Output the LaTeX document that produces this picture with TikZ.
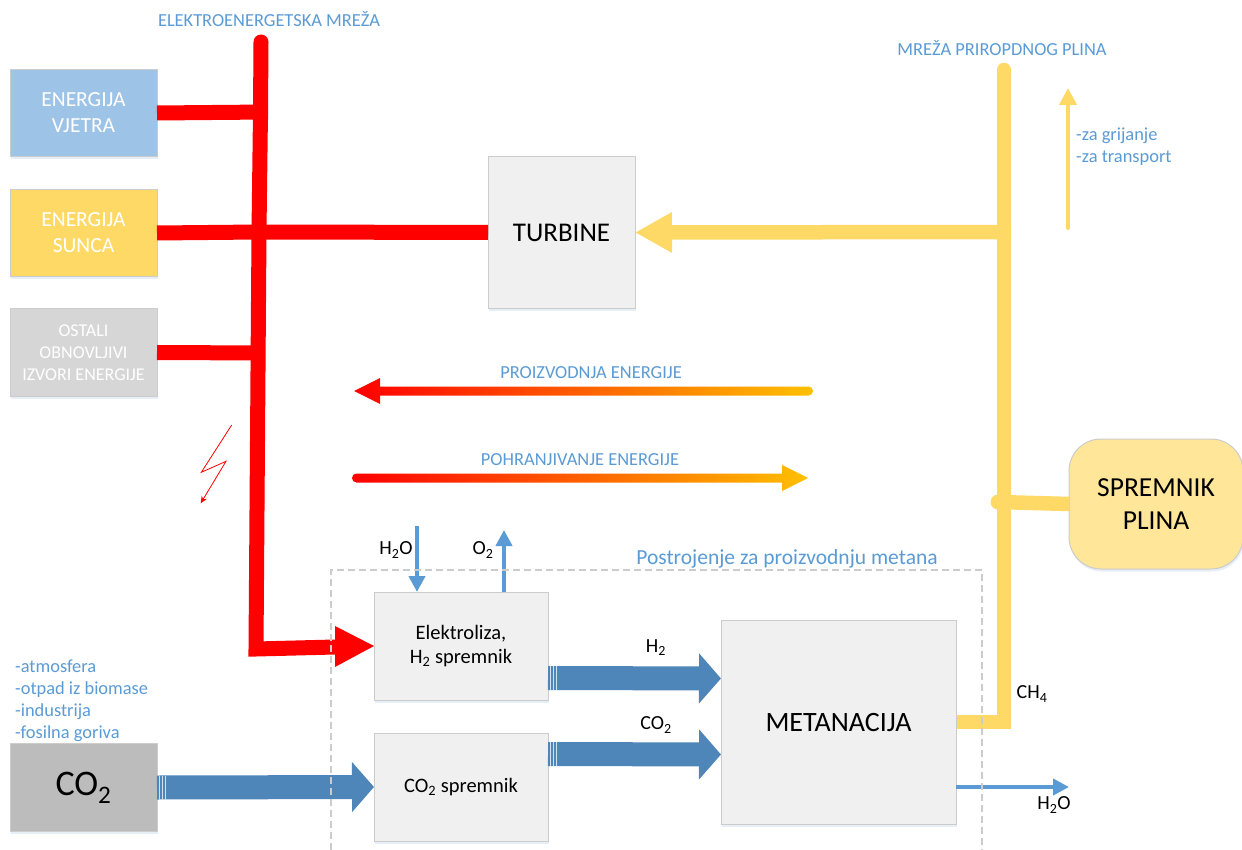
\documentclass[tikz,border=0pt]{standalone}
\usepackage{fontspec}
\setmainfont{Carlito}
\usetikzlibrary{arrows.meta,calc,shadows}
\definecolor{lblue}{HTML}{5B9BD5}
\definecolor{blockblue}{HTML}{4F86B9}
\definecolor{edgegrey}{HTML}{CCCCCC}
\definecolor{boxgrey}{HTML}{F0F0F0}
\definecolor{gas}{HTML}{FFD966}
\definecolor{shadowblue}{HTML}{E6EEF7}
\newcommand{\fsz}[2]{\fontsize{#1}{#2}\selectfont}
\tikzset{
  box/.style={draw=edgegrey,line width=1pt,inner sep=0pt,outer sep=0pt,align=center,
    general shadow={fill=shadowblue,shadow xshift=1pt,shadow yshift=-2.5pt}},
  source/.style={box,minimum width=147pt,minimum height=87pt,text=white},
  plant/.style={box,fill=boxgrey,text=black},
  smalllabel/.style={text=lblue,font=\fsz{18.4}{22},inner sep=0pt,align=left},
  chem/.style={text=black,font=\fsz{20}{24},inner sep=0pt},
  redline/.style={draw=red,line width=15pt},
  gasline/.style={draw=gas,line width=14.5pt},
  blockarrow/.style={draw=blockblue,line width=24pt,-{Triangle[width=49pt,length=22pt]}},
  stripe/.style={draw=white!75!blockblue,line width=0.8pt},
  thinarrow/.style={draw=lblue,line width=4pt,-{Triangle[width=16pt,length=16pt]}},
}
\begin{document}
\begin{tikzpicture}[x=1pt,y=-1pt]
\useasboundingbox (0,0) rectangle (1242,850);
\fill[white] (0,0) rectangle (1242,850);

% coordinates on the buses
\coordinate (busTop) at (261,42);
\coordinate (busWind) at (268,112);
\coordinate (busWindIn) at (260.5,112);
\coordinate (busSun) at (259,232);
\coordinate (busOther) at (264,353);
\coordinate (busBottom) at (256,649);
\coordinate (gasTop) at (1004,70);
\coordinate (gasTurb) at (1011,232);
\coordinate (gasStore) at (998,502);
\coordinate (gasBottom) at (1004,722);

% red and gas lines
\draw[redline,line cap=round] (busTop) -- (busWindIn);
\draw[redline] (busWindIn) -- (busSun);
\draw[redline,line join=miter] (busSun) -- (busBottom) -- (335,647);
\draw[gasline,line cap=round] (gasTop) -- (gasTurb-|gasTop);
\draw[gasline,line join=miter] (gasTurb-|gasTop) -- (gasBottom) -- (956,722);
\fill[gas] (gasStore) circle (7.5pt);

% boxes
\node[source,fill={rgb,255:red,157;green,195;blue,230},font=\fsz{21.5}{26}] (wind) at (83.5,113) {ENERGIJA\\VJETRA};
\node[source,fill=gas,font=\fsz{21.5}{26}] (sun) at (83.5,233) {ENERGIJA\\SUNCA};
\node[source,fill={rgb,255:red,214;green,214;blue,214},minimum height=88pt,font=\fsz{18}{22}] (other) at (83.5,352.5) {OSTALI\\OBNOVLJIVI\\IZVORI ENERGIJE};
\node[box,fill={rgb,255:red,188;green,188;blue,188},minimum width=147pt,minimum height=88pt,text=black,font=\fsz{36}{40}] (co2) at (83.5,787.5) {CO\textsubscript{2}};
\node[plant,minimum width=147pt,minimum height=152pt,font=\fsz{27}{32}] (turbine) at (561.5,232.5) {TURBINE};
\node[plant,minimum width=174pt,minimum height=108pt,font=\fsz{20.5}{24}] (elec) at (461,646) {Elektroliza,\\H\textsubscript{2} spremnik};
\node[plant,minimum width=174pt,minimum height=108pt,font=\fsz{20.5}{24}] (co2s) at (461,787) {CO\textsubscript{2} spremnik};
\node[plant,minimum width=235pt,minimum height=204pt,font=\fsz{28}{32}] (meth) at (838.5,722.5) {METANACIJA};
\node[box,fill={rgb,255:red,255;green,230;blue,153},rounded corners=32pt,minimum width=174pt,minimum height=130pt,font=\fsz{27.5}{33}] (store) at (1156,504) {SPREMNIK\\PLINA};

% connectors
\draw[redline] (wind.east) -- (busWind);
\draw[redline] (sun.east) -- (busSun);
\draw[redline] (busSun) -- (turbine.west);
\draw[redline] (other.east) -- (busOther);
\fill[red] (335,626) -- (elec.west) -- (335,667) -- cycle;
\draw[gasline,-{Triangle[width=38pt,length=37pt]}] (gasTurb) -- (turbine.east);
\draw[gasline] (gasStore) -- (store.west);

\draw[blockarrow] (co2.east) -- (co2s.west);
\coordinate (h2start) at ($(elec.east)+(0,32)$);
\coordinate (h2end) at ($(meth.west)+(0,-44)$);
\coordinate (cstart) at ($(co2s.east)+(0,-33)$);
\coordinate (cend) at ($(meth.west)+(0,32)$);
\draw[blockarrow] (h2start) -- (h2end);
\draw[blockarrow] (cstart) -- (cend);
\foreach \a in {co2.east,h2start,cstart}{
  \foreach \d in {2,5,8}{
    \draw[stripe] ($(\a)+(\d,-12)$) -- ($(\a)+(\d,12)$);
  }
}

% thin blue arrows
\coordinate (waterIn) at (417,526);
\coordinate (oxyOut) at (504,530);
\coordinate (waterEnd) at (1069,787);
\draw[thinarrow] (waterIn) -- (waterIn|-elec.north);
\draw[thinarrow] (oxyOut|-elec.north) -- (oxyOut);
\draw[thinarrow] (waterEnd-|meth.east) -- (waterEnd);

% use arrow
\coordinate (useTop) at (1068,88);
\coordinate (useBottom) at (1068,228);
\draw[draw=gas,line width=4pt,-{Triangle[width=17pt,length=17pt]}] (useBottom) -- (useTop);
\fill[gas] (useBottom) circle (2pt);

% dashed frame
\draw[draw=edgegrey,line width=1.2pt,dash pattern=on 7pt off 4pt]
  (331,850) -- (331,570) -- (982,570) -- (982,850);

% gradient arrows
\coordinate (prodA) at (354,391);
\coordinate (prodB) at (813,391);
\coordinate (storA) at (352,478);
\coordinate (storB) at (808,478);
\shade[left color=red,right color={rgb,255:red,255;green,192;blue,0}]
  (prodA) -- ($(prodA)+(26,-13)$) -- ($(prodA)+(26,-4.5)$) -- ($(prodB)+(-4.5,-4.5)$) arc (90:-90:4.5pt)
  -- ($(prodA)+(26,4.5)$) -- ($(prodA)+(26,13)$) -- cycle;
\shade[left color=red,right color={rgb,255:red,255;green,192;blue,0}]
  (storB) -- ($(storB)+(-26,-13)$) -- ($(storB)+(-26,-4.5)$) -- ($(storA)+(4.5,-4.5)$) arc (90:270:4.5pt)
  -- ($(storB)+(-26,4.5)$) -- ($(storB)+(-26,13)$) -- cycle;

% lightning
\coordinate (bolt0) at (231.7,425);
\coordinate (bolt1) at (201.3,472.3);
\coordinate (bolt2) at (226,461.3);
\coordinate (bolt3) at (200.7,503.3);
\draw[red,line width=0.8pt,line join=miter,-{Stealth[width=6pt,length=7pt]}] (bolt0) -- (bolt1) -- (bolt2) -- (bolt3);

% labels
\node[smalllabel] (lgrid) at (269,19) {ELEKTROENERGETSKA MREŽA};
\node[smalllabel] (lgas) at (1002,48) {MREŽA PRIROPDNOG PLINA};
\node[smalllabel,anchor=west] (luse) at (1076,146.5) {-za grijanje\\-za transport};
\node[smalllabel] (lprod) at (591,373) {PROIZVODNJA ENERGIJE};
\node[smalllabel] (lstor) at (580,460) {POHRANJIVANJE ENERGIJE};
\node[smalllabel,font=\fsz{21.5}{24}] (lplant) at (787,559) {Postrojenje za proizvodnju metana};
\node[smalllabel,anchor=west] (lsrc) at (15,701) {-atmosfera\\-otpad iz biomase\\-industrija\\-fosilna goriva};
\node[chem] (t1) at (396,550) {H\textsubscript{2}O};
\node[chem] (t2) at (483,550) {O\textsubscript{2}};
\node[chem] (t3) at (656,648) {H\textsubscript{2}};
\node[chem] (t4) at (656,725) {CO\textsubscript{2}};
\node[chem] (t5) at (1032,694) {CH\textsubscript{4}};
\node[chem] (t6) at (1054,805) {H\textsubscript{2}O};
\end{tikzpicture}
\end{document}
